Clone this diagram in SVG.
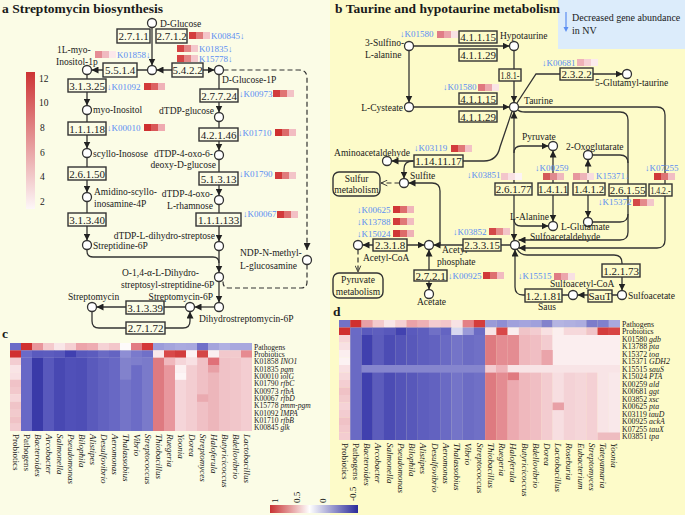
<svg xmlns="http://www.w3.org/2000/svg" width="685" height="515" viewBox="0 0 685 515">
<defs>
<style>
text{font-family:"Liberation Serif","Times New Roman",serif;fill:#1a1a1a}
.t{font-size:13.5px;font-weight:bold}
.n{font-size:9.5px}
.e{font-size:11px;text-anchor:middle}
.k{font-size:9px;fill:#5b8ef2}
.h{font-size:9px}
.rc{font-size:7.6px}
.rd{font-size:7.8px}
.i{font-style:italic}
.l{fill:none;stroke:#333;stroke-width:1.3}
.d{fill:none;stroke:#333;stroke-width:1.2;stroke-dasharray:5 3}
.c{fill:#fff;stroke:#333;stroke-width:1.3}
.ba{fill:#fbfce6;stroke:#333;stroke-width:1.4}
.bb{fill:#fdfbc9;stroke:#333;stroke-width:1.4}
.ea{marker-end:url(#ah)}
.eb{marker-start:url(#ah);marker-end:url(#ah)}
</style>
<marker id="ah" viewBox="0 0 10 10" refX="10" refY="5" markerWidth="7" markerHeight="7" markerUnits="userSpaceOnUse" orient="auto-start-reverse"><path d="M0,0 L10,5 L0,10 z" fill="#222"/></marker>
<marker id="oa" viewBox="0 0 10 10" refX="10" refY="5" markerWidth="7" markerHeight="7" markerUnits="userSpaceOnUse" orient="auto"><path d="M1,1 L10,5 L1,9" fill="none" stroke="#333" stroke-width="1.3"/></marker>
<linearGradient id="gv" x1="0" y1="0" x2="0" y2="1"><stop offset="0" stop-color="#cd3434"/><stop offset="1" stop-color="#fdf7f8"/></linearGradient>
<linearGradient id="gh" x1="0" y1="0" x2="1" y2="0"><stop offset="0" stop-color="#c83232"/><stop offset="0.45" stop-color="#ffffff"/><stop offset="1" stop-color="#2a2a9a"/></linearGradient>
</defs>

<rect x="0" y="0" width="330" height="515" fill="#fbfce6"/>
<rect x="330" y="0" width="355" height="515" fill="#fdfbc9"/>
<rect x="558" y="0" width="127" height="49" fill="#dcecfb"/>

<text class="t" x="2" y="13">a Streptomycin biosynthesis</text>
<text class="t" x="335" y="13">b Taurine and hypotaurine metabolism</text>
<text class="t" x="2" y="338">c</text>
<text class="t" x="333" y="316">d</text>

<g id="legend-nv">
<line x1="566" y1="12" x2="566" y2="28" stroke="#5b8ef2" stroke-width="1.2"/>
<path d="M563.5,27 L566,32 L568.5,27 z" fill="#5b8ef2"/>
<text x="572" y="21" style="font-size:10px">Decreased gene abundance</text>
<text x="572" y="34" style="font-size:10px">in NV</text>
</g>

<g id="scale-a">
<rect x="26" y="72" width="9" height="137" fill="url(#gv)"/>
<text class="n" x="39" y="82">12</text>
<text class="n" x="39" y="106">10</text>
<text class="n" x="40" y="131">8</text>
<text class="n" x="40" y="156">6</text>
<text class="n" x="40" y="180">4</text>
<text class="n" x="40" y="205">2</text>
</g>

<!-- connectors panel a -->
<g id="connectors-a">
<line class="l ea" x1="152" y1="27.5" x2="152" y2="65.5"/>
<line class="l eb" x1="156.5" y1="70" x2="214.5" y2="70"/>
<line class="l ea" x1="147.5" y1="70" x2="91.5" y2="70"/>
<line class="l ea" x1="87" y1="74.5" x2="87" y2="105.5"/>
<line class="l ea" x1="87" y1="114.5" x2="87" y2="148.5"/>
<line class="l ea" x1="87" y1="157.5" x2="87" y2="192.5"/>
<line class="l ea" x1="87" y1="201.5" x2="87" y2="240.5"/>
<path class="l" d="M87,249.5 V251 Q87,257 93,257 H213 Q219,257 219,263"/>
<line class="l ea" x1="219" y1="74.5" x2="219" y2="112.5"/>
<line class="l ea" x1="219" y1="121.5" x2="219" y2="150.5"/>
<line class="l ea" x1="219" y1="159.5" x2="219" y2="195.5"/>
<line class="l ea" x1="219" y1="204.5" x2="219" y2="241.5"/>
<line class="l ea" x1="219" y1="250.5" x2="219" y2="272.5"/>
<line class="l ea" x1="219" y1="281.5" x2="219" y2="302.5"/>
<line class="l ea" x1="214.5" y1="307" x2="194.5" y2="307"/>
<line class="l ea" x1="185.5" y1="307" x2="96.5" y2="307"/>
<path class="l ea" d="M92,311.5 V321 Q92,328 99,328 H183 Q190,328 190,321 V311.5"/>
<path class="d" d="M223.5,70 H299 Q307,70 307,78 V250" marker-end="url(#ah)"/>
<path class="d" d="M307,264.5 V282 Q307,288 301,288 H229 Q223,288 223,282 V280"/>
</g>

<!-- nodes panel a -->
<g id="n-dglucose"><circle class="c" cx="152" cy="23" r="4.5"/><text class="n" x="160" y="27">D-Glucose</text></g>
<g id="n-g6p"><circle class="c" cx="152" cy="70" r="4.5"/></g>
<g id="n-mi1p"><circle class="c" cx="87" cy="70" r="4.5"/><text class="n" x="57" y="53">1L-myo-</text><text class="n" x="56" y="65">Inositol-1p</text></g>
<g id="n-g1p"><circle class="c" cx="219" cy="70" r="4.5"/><text class="n" x="222" y="83">D-Glucose-1P</text></g>
<g id="n-myo"><circle class="c" cx="87" cy="110" r="4.5"/><text class="n" x="93" y="113">myo-Inositol</text></g>
<g id="n-scyllo"><circle class="c" cx="87" cy="153" r="4.5"/><text class="n" x="93" y="157">scyllo-Inosose</text></g>
<g id="n-amidino"><circle class="c" cx="87" cy="197" r="4.5"/><text class="n" x="94" y="195">Amidino-scyllo-</text><text class="n" x="94" y="207">inosamine-4P</text></g>
<g id="n-streptidine"><circle class="c" cx="87" cy="245" r="4.5"/><text class="n" x="93" y="249">Streptidine-6P</text></g>
<g id="n-dtdpglc"><circle class="c" cx="219" cy="117" r="4.5"/><text class="n" x="214" y="114" text-anchor="end">dTDP-glucose</text></g>
<g id="n-dtdp46"><circle class="c" cx="219" cy="155" r="4.5"/><text class="n" x="213" y="157" text-anchor="end">dTDP-4-oxo-6-</text><text class="n" x="216" y="168" text-anchor="end">deoxy-D-glucose</text></g>
<g id="n-dtdprha"><circle class="c" cx="219" cy="200" r="4.5"/><text class="n" x="213" y="197" text-anchor="end">dTDP-4-oxo-</text><text class="n" x="213" y="209" text-anchor="end">L-rhamnose</text></g>
<g id="n-dtdpstr"><circle class="c" cx="219" cy="246" r="4.5"/><text class="n" x="215" y="239" text-anchor="end">dTDP-L-dihydro-streptose</text></g>
<g id="n-o14"><circle class="c" cx="219" cy="277" r="4.5"/><text class="n" x="122" y="276">O-1,4-α-L-Dihydro-</text><text class="n" x="121" y="288">streptosyl-streptidine-6P</text></g>
<g id="n-dhsm6p"><circle class="c" cx="219" cy="307" r="4.5"/><text class="n" x="199" y="322">Dihydrostreptomycin-6P</text></g>
<g id="n-sm6p"><circle class="c" cx="190" cy="307" r="4.5"/><text class="n" x="213" y="300" text-anchor="end">Streptomycin-6P</text></g>
<g id="n-sm"><circle class="c" cx="92" cy="307" r="4.5"/><text class="n" x="68" y="300">Streptomycin</text></g>
<g id="n-ndp"><circle class="c" cx="307" cy="260" r="4.5"/><text class="n" x="240" y="256">NDP-N-methyl-</text><text class="n" x="240" y="269">L-glucosamine</text></g>

<g id="e-2711"><rect class="ba" x="117" y="29" width="33" height="14"/><text class="e" x="133.5" y="40">2.7.1.1</text></g>
<g id="e-2712"><rect class="ba" x="156" y="29" width="31" height="14"/><text class="e" x="171.5" y="40">2.7.1.2</text></g>
<g id="e-5422"><rect class="ba" x="172" y="63" width="31" height="14"/><text class="e" x="187.5" y="74">5.4.2.2</text></g>
<g id="e-5514"><rect class="ba" x="103" y="63" width="34" height="14"/><text class="e" x="120" y="74">5.5.1.4</text></g>
<g id="e-31325"><rect class="ba" x="68" y="79" width="38" height="13"/><text class="e" x="87" y="89.5">3.1.3.25</text></g>
<g id="e-11118"><rect class="ba" x="68" y="122" width="38" height="13"/><text class="e" x="87" y="132.5">1.1.1.18</text></g>
<g id="e-26150"><rect class="ba" x="68" y="167" width="38" height="13"/><text class="e" x="87" y="177.5">2.6.1.50</text></g>
<g id="e-31340"><rect class="ba" x="68" y="213" width="38" height="13"/><text class="e" x="87" y="223.5">3.1.3.40</text></g>
<g id="e-27724"><rect class="ba" x="200" y="89" width="38" height="13"/><text class="e" x="219" y="99.5">2.7.7.24</text></g>
<g id="e-42146"><rect class="ba" x="199" y="128" width="39" height="13"/><text class="e" x="218.5" y="138.5">4.2.1.46</text></g>
<g id="e-51313"><rect class="ba" x="199" y="172" width="39" height="13"/><text class="e" x="218.5" y="182.5">5.1.3.13</text></g>
<g id="e-111133"><rect class="ba" x="196" y="213" width="45" height="13"/><text class="e" x="218.5" y="223.5">1.1.1.133</text></g>
<g id="e-31339"><rect class="ba" x="126" y="301" width="38" height="13"/><text class="e" x="145" y="311.5">3.1.3.39</text></g>
<g id="e-27172"><rect class="ba" x="126" y="322" width="39" height="12"/><text class="e" x="145.5" y="332">2.7.1.72</text></g>

<g id="ko-a">
<text class="k" x="211" y="39">K00845↓</text>
<rect x="189" y="32" width="7" height="7" fill="#d43c3c"/><rect x="196" y="32" width="7" height="7" fill="#e07a7a"/><rect x="203" y="32" width="7" height="7" fill="#f4c4c8"/>
<text class="k" x="199" y="52">K01835↓</text>
<rect x="177" y="45" width="7" height="7" fill="#d64444"/><rect x="184" y="45" width="7" height="7" fill="#e38686"/><rect x="191" y="45" width="7" height="7" fill="#f4c8cc"/>
<text class="k" x="199" y="62">K15778↓</text>
<rect x="177" y="55" width="7" height="7" fill="#d64444"/><rect x="184" y="55" width="7" height="7" fill="#e38686"/><rect x="191" y="55" width="7" height="7" fill="#f4c8cc"/>
<text class="k" x="117" y="58">K01858↓</text>
<rect x="95" y="51" width="7" height="7" fill="#e58c94"/><rect x="102" y="51" width="7" height="7" fill="#f0bac0"/><rect x="109" y="51" width="7" height="7" fill="#fbe8ea"/>
<text class="k" x="107" y="90">↓K01092</text>
<rect x="144" y="83" width="7" height="7" fill="#d23a3a"/><rect x="151" y="83" width="7" height="7" fill="#dc6262"/><rect x="158" y="83" width="7" height="7" fill="#f0b2b8"/>
<text class="k" x="107" y="131">↓K00010</text>
<rect x="144" y="124" width="7" height="7" fill="#ce3030"/><rect x="151" y="124" width="7" height="7" fill="#d95858"/><rect x="158" y="124" width="7" height="7" fill="#efaab0"/>
<text class="k" x="239" y="97">↓K00973</text>
<rect x="273" y="90" width="7" height="7" fill="#d23c3c"/><rect x="280" y="90" width="7" height="7" fill="#e07474"/><rect x="287" y="90" width="7" height="7" fill="#f3c2c6"/>
<text class="k" x="238" y="136">↓K01710</text>
<rect x="275" y="129" width="7" height="7" fill="#ce3030"/><rect x="282" y="129" width="7" height="7" fill="#dc6a6a"/><rect x="289" y="129" width="7" height="7" fill="#f2bcc2"/>
<text class="k" x="239" y="177">↓K01790</text>
<rect x="275" y="172" width="7" height="7" fill="#d23a3a"/><rect x="282" y="172" width="7" height="7" fill="#e07c7c"/><rect x="289" y="172" width="7" height="7" fill="#f3c4c8"/>
<text class="k" x="243" y="217">↓K00067</text>
<rect x="277" y="211" width="7" height="7" fill="#d23a3a"/><rect x="284" y="211" width="7" height="7" fill="#de7070"/><rect x="291" y="211" width="7" height="7" fill="#f3c0c5"/>
</g>

<!-- connectors panel b -->
<g id="connectors-b">
<line class="l ea" x1="413.5" y1="46" x2="509.5" y2="46"/>
<line class="l ea" x1="409" y1="50.5" x2="409" y2="102.5"/>
<line class="l ea" x1="413.5" y1="107" x2="509.5" y2="107"/>
<line class="l ea" x1="514" y1="50.5" x2="514" y2="102.5"/>
<path class="l ea" d="M517,103 L536,74 H622.5"/>
<path class="l ea" d="M512,111.5 L500,147 Q497,161 484,161 H391.5"/>
<path class="l ea" d="M413,161 Q404,161 404,169 V178.5"/>
<line class="d" x1="399.5" y1="183" x2="381" y2="183" marker-end="url(#oa)"/>
<line class="l eb" x1="514" y1="111.5" x2="514" y2="240.5"/>
<path class="l ea" d="M514,153 Q514,146 521,146 H548.5"/>
<path class="l ea" d="M514,219 Q514,226 521,226 H548.5"/>
<line class="l eb" x1="553" y1="150.5" x2="553" y2="221.5"/>
<line class="l eb" x1="588" y1="159.5" x2="588" y2="217.5"/>
<path class="l ea" d="M518,110 Q520,112 525,112 H620 Q628,112 628,120 V232 Q628,240 620,240 H518.5"/>
<path class="l ea" d="M518.5,107 H657 Q665,107 665,115 V240 Q665,248 657,248 H518.5"/>
<path class="l" d="M592.5,155 H620 Q628,155 628,163"/>
<path class="l" d="M592.5,222 H620 Q628,222 628,214"/>
<line class="l ea" x1="510.5" y1="245" x2="433.5" y2="245"/>
<line class="l eb" x1="424.5" y1="245" x2="362.5" y2="245"/>
<line class="l eb" x1="429" y1="249.5" x2="429" y2="289.5"/>
<path class="l ea" d="M440,245 V191 Q440,183 432,183 H408.5"/>
<line class="d" x1="358" y1="249.5" x2="358" y2="272" marker-end="url(#oa)"/>
<path class="l ea" d="M517,249 Q520,255 527,255 H614 Q622,255 622,263 V290.5"/>
<line class="l ea" x1="617.5" y1="295" x2="577.5" y2="295"/>
<path class="l ea" d="M568.5,295 H523 Q515,295 515,287 V249.5"/>
</g>

<!-- nodes panel b -->
<g id="n-sulfinoala"><circle class="c" cx="409" cy="46" r="4.5"/><text class="n" x="365" y="46">3-Sulfino-</text><text class="n" x="365" y="58">L-alanine</text></g>
<g id="n-hypotaurine"><circle class="c" cx="514" cy="46" r="4.5"/><text class="n" x="500" y="39">Hypotaurine</text></g>
<g id="n-cysteate"><circle class="c" cx="409" cy="107" r="4.5"/><text class="n" x="403" y="111" text-anchor="end">L-Cysteate</text></g>
<g id="n-taurine"><circle class="c" cx="514" cy="107" r="4.5"/><text class="n" x="524" y="104">Taurine</text></g>
<g id="n-glutaurine"><circle class="c" cx="627" cy="74" r="4.5"/><text class="n" x="595" y="86">5-Glutamyl-taurine</text></g>
<g id="n-aminoacet"><circle class="c" cx="387" cy="161" r="4.5"/><text class="n" x="410" y="156" text-anchor="end">Aminoacetaldehyde</text></g>
<g id="n-sulfite"><circle class="c" cx="404" cy="183" r="4.5"/><text class="n" x="410" y="179">Sulfite</text></g>
<g id="n-sulfurmet"><rect class="bb" x="333" y="172" width="47" height="24" rx="6"/><text class="n" x="356.5" y="182" text-anchor="middle">Sulfur</text><text class="n" x="356.5" y="193" text-anchor="middle">metabolism</text></g>
<g id="n-pyruvate"><circle class="c" cx="553" cy="146" r="4.5"/><text class="n" x="522" y="140">Pyruvate</text></g>
<g id="n-oxoglut"><circle class="c" cx="588" cy="155" r="4.5"/><text class="n" x="566" y="150">2-Oxoglutarate</text></g>
<g id="n-alanine"><circle class="c" cx="553" cy="226" r="4.5"/><text class="n" x="510" y="220">L-Alanine</text></g>
<g id="n-glutamate"><circle class="c" cx="588" cy="222" r="4.5"/><text class="n" x="561" y="230">L-Glutamate</text></g>
<g id="n-sulfoacetald"><circle class="c" cx="515" cy="245" r="4.5"/><text class="n" x="530" y="239.5">Sulfoacetaldehyde</text></g>
<g id="n-acetylp"><circle class="c" cx="429" cy="245" r="4.5"/><text class="n" x="442" y="253">Acetyl</text><text class="n" x="437" y="265">phosphate</text></g>
<g id="n-acetylcoa"><circle class="c" cx="358" cy="245" r="4.5"/><text class="n" x="363" y="261">Acetyl-CoA</text></g>
<g id="n-pyrmet"><rect class="bb" x="333" y="273" width="50" height="25" rx="6"/><text class="n" x="358" y="283" text-anchor="middle">Pyruvate</text><text class="n" x="358" y="295" text-anchor="middle">metabolism</text></g>
<g id="n-acetate"><circle class="c" cx="429" cy="294" r="4.5"/><text class="n" x="417" y="305">Acetate</text></g>
<g id="n-sulfoacetylcoa"><circle class="c" cx="573" cy="295" r="4.5"/><text class="n" x="550" y="287">Sulfoacetyl-CoA</text></g>
<g id="n-sulfoacetate"><circle class="c" cx="622" cy="295" r="4.5"/><text class="n" x="628" y="299">Sulfoacetate</text></g>

<g id="e-41115a"><rect class="bb" x="459" y="31" width="38" height="12"/><text class="e" x="478" y="41">4.1.1.15</text></g>
<g id="e-41129a"><rect class="bb" x="459" y="49" width="38" height="12"/><text class="e" x="478" y="59">4.1.1.29</text></g>
<g id="e-41115b"><rect class="bb" x="459" y="93" width="38" height="11"/><text class="e" x="478" y="102.5">4.1.1.15</text></g>
<g id="e-41129b"><rect class="bb" x="459" y="111" width="38" height="11"/><text class="e" x="478" y="120.5">4.1.1.29</text></g>
<g id="e-181"><rect class="bb" x="499" y="69" width="22" height="12"/><text class="e" x="510" y="79" textLength="19" lengthAdjust="spacingAndGlyphs">1.8.1-</text></g>
<g id="e-2322"><rect class="bb" x="560" y="68" width="33" height="12"/><text class="e" x="576.5" y="78">2.3.2.2</text></g>
<g id="e-1141117"><rect class="bb" x="414" y="155" width="49" height="12"/><text class="e" x="438.5" y="165">1.14.11.17</text></g>
<g id="e-26177"><rect class="bb" x="495" y="183" width="37" height="12"/><text class="e" x="513.5" y="193">2.6.1.77</text></g>
<g id="e-1411"><rect class="bb" x="538" y="183" width="30" height="12"/><text class="e" x="553" y="193">1.4.1.1</text></g>
<g id="e-1412"><rect class="bb" x="573" y="183" width="32" height="12"/><text class="e" x="589" y="193">1.4.1.2</text></g>
<g id="e-26155"><rect class="bb" x="609" y="184" width="37" height="12"/><text class="e" x="627.5" y="194">2.6.1.55</text></g>
<g id="e-142"><rect class="bb" x="649" y="184" width="23" height="12"/><text class="e" x="660.5" y="194" textLength="20" lengthAdjust="spacingAndGlyphs">1.4.2.-</text></g>
<g id="e-23315"><rect class="bb" x="463" y="239" width="38" height="12"/><text class="e" x="482" y="249">2.3.3.15</text></g>
<g id="e-2318"><rect class="bb" x="373" y="239" width="34" height="12"/><text class="e" x="390" y="249">2.3.1.8</text></g>
<g id="e-2721"><rect class="bb" x="414" y="270" width="33" height="11"/><text class="e" x="430.5" y="279.5">2.7.2.1</text></g>
<g id="e-12173"><rect class="bb" x="602" y="264" width="38" height="13"/><text class="e" x="621" y="274.5">1.2.1.73</text></g>
<g id="e-saut"><rect class="bb" x="588" y="290" width="24" height="12"/><text class="e" x="600" y="300">SauT</text></g>
<g id="e-12181"><rect class="bb" x="525" y="289" width="37" height="13"/><text class="e" x="543.5" y="299.5">1.2.1.81</text><text class="n" x="538" y="310">Saus</text></g>

<g id="ko-b">
<text class="k" x="400" y="37">↓K01580</text>
<rect x="437" y="31" width="7" height="7" fill="#e07e86"/><rect x="444" y="31" width="7" height="7" fill="#eaa4aa"/><rect x="451" y="31" width="7" height="7" fill="#f8e2e4"/>
<text class="k" x="443" y="90">↓K01580</text>
<rect x="478" y="84" width="7" height="7" fill="#e0787f"/><rect x="485" y="84" width="7" height="7" fill="#eca8ae"/><rect x="492" y="84" width="7" height="7" fill="#f9e4e6"/>
<text class="k" x="542" y="66">↓K00681</text>
<rect x="577" y="59" width="7" height="7" fill="#efb2b8"/><rect x="584" y="59" width="7" height="7" fill="#f6d2d6"/><rect x="591" y="59" width="7" height="7" fill="#fcecee"/>
<text class="k" x="414" y="151">↓K03119</text>
<rect x="451" y="145" width="7" height="7" fill="#d23c3c"/><rect x="458" y="145" width="7" height="7" fill="#e07878"/><rect x="465" y="145" width="7" height="7" fill="#f3c2c6"/>
<text class="k" x="467" y="178">↓K03851</text>
<rect x="501" y="173" width="7" height="7" fill="#f3c6cb"/><rect x="508" y="173" width="7" height="7" fill="#f8e0e3"/><rect x="515" y="173" width="7" height="7" fill="#fdf4f5"/>
<text class="k" x="357" y="213">↓K00625</text>
<rect x="393" y="206" width="7" height="7" fill="#d03636"/><rect x="400" y="206" width="7" height="7" fill="#de6e6e"/><rect x="407" y="206" width="7" height="7" fill="#f0b4ba"/>
<text class="k" x="357" y="225">↓K13788</text>
<rect x="393" y="218" width="7" height="7" fill="#d23c3c"/><rect x="400" y="218" width="7" height="7" fill="#e07878"/><rect x="407" y="218" width="7" height="7" fill="#f2bcc1"/>
<text class="k" x="357" y="237">↓K15024</text>
<rect x="393" y="230" width="7" height="7" fill="#d03636"/><rect x="400" y="230" width="7" height="7" fill="#dd6a6a"/><rect x="407" y="230" width="7" height="7" fill="#efb0b6"/>
<text class="k" x="453" y="235">↓K03852</text>
<rect x="489" y="228" width="7" height="7" fill="#d44848"/><rect x="496" y="228" width="7" height="7" fill="#e48a8a"/><rect x="503" y="228" width="7" height="7" fill="#f3c4c8"/>
<text class="k" x="448" y="279">↓K00925</text>
<rect x="483" y="272" width="7" height="7" fill="#d23a3a"/><rect x="490" y="272" width="7" height="7" fill="#de7070"/><rect x="497" y="272" width="7" height="7" fill="#f2bac0"/>
<text class="k" x="535" y="171">↓K00259</text>
<rect x="543" y="173" width="7" height="7" fill="#d45858"/><rect x="550" y="173" width="7" height="7" fill="#e08a8e"/><rect x="557" y="173" width="7" height="7" fill="#f0b8bd"/>
<text class="k" x="596" y="179">K15371↓</text>
<rect x="573" y="173" width="7" height="7" fill="#e7979e"/><rect x="580" y="173" width="7" height="7" fill="#eeb4b9"/><rect x="587" y="173" width="7" height="7" fill="#f8dcdf"/>
<text class="k" x="645" y="171">↓K07255</text>
<rect x="654" y="173" width="7" height="7" fill="#d03838"/><rect x="661" y="173" width="7" height="7" fill="#de7474"/><rect x="668" y="173" width="7" height="7" fill="#f2bec3"/>
<text class="k" x="598" y="205">↓K15372</text>
<rect x="633" y="199" width="7" height="7" fill="#d44848"/><rect x="640" y="199" width="7" height="7" fill="#e48a8c"/><rect x="647" y="199" width="7" height="7" fill="#f3c6ca"/>
<text class="k" x="518" y="279">↓K15515</text>
<rect x="554" y="273" width="7" height="7" fill="#e07c84"/><rect x="561" y="273" width="7" height="7" fill="#eca6ac"/><rect x="568" y="273" width="7" height="7" fill="#f8e0e3"/>
</g>

<!-- heatmap c -->
<g id="heatmap-c">
<rect x="10" y="343" width="11.2" height="7.5" fill="#6c6cc8"/><rect x="21" y="343" width="11.2" height="7.5" fill="#d03030"/><rect x="32" y="343" width="11.2" height="7.5" fill="#e8969c"/><rect x="43" y="343" width="11.2" height="7.5" fill="#f4cacd"/><rect x="54" y="343" width="11.2" height="7.5" fill="#f9e6e8"/><rect x="65" y="343" width="11.2" height="7.5" fill="#f5d0d3"/><rect x="76" y="343" width="11.2" height="7.5" fill="#eca4aa"/><rect x="87" y="343" width="11.2" height="7.5" fill="#eeacb2"/><rect x="98" y="343" width="11.2" height="7.5" fill="#f5d2d5"/><rect x="109" y="343" width="11.2" height="7.5" fill="#f3c6ca"/><rect x="120" y="343" width="11.2" height="7.5" fill="#fdfafa"/><rect x="131" y="343" width="11.2" height="7.5" fill="#e27c82"/><rect x="142" y="343" width="11.2" height="7.5" fill="#d43838"/><rect x="153" y="343" width="11.2" height="7.5" fill="#9c9cda"/><rect x="164" y="343" width="11.2" height="7.5" fill="#a4a4dc"/><rect x="175" y="343" width="11.2" height="7.5" fill="#aaaadf"/><rect x="186" y="343" width="11.2" height="7.5" fill="#a8a8de"/><rect x="197" y="343" width="11.2" height="7.5" fill="#7070c8"/><rect x="208" y="343" width="11.2" height="7.5" fill="#a4a4dc"/><rect x="219" y="343" width="11.2" height="7.5" fill="#b0b0e2"/><rect x="230" y="343" width="11.2" height="7.5" fill="#a8a8de"/><rect x="241" y="343" width="11" height="7.5" fill="#a8a8de"/>
<rect x="10" y="350.33" width="11.2" height="7.5" fill="#d03030"/><rect x="21" y="350.33" width="11.2" height="7.5" fill="#6a6ac8"/><rect x="32" y="350.33" width="11.2" height="7.5" fill="#5a5abe"/><rect x="43" y="350.33" width="11.2" height="7.5" fill="#5c5cbe"/><rect x="54" y="350.33" width="11.2" height="7.5" fill="#5858bc"/><rect x="65" y="350.33" width="11.2" height="7.5" fill="#4040b0"/><rect x="76" y="350.33" width="11.2" height="7.5" fill="#5858bc"/><rect x="87" y="350.33" width="11.2" height="7.5" fill="#5c5cbe"/><rect x="98" y="350.33" width="11.2" height="7.5" fill="#6a6ac4"/><rect x="109" y="350.33" width="11.2" height="7.5" fill="#6464c2"/><rect x="120" y="350.33" width="11.2" height="7.5" fill="#8e8ed4"/><rect x="131" y="350.33" width="11.2" height="7.5" fill="#7a7acc"/><rect x="142" y="350.33" width="11.2" height="7.5" fill="#7070c8"/><rect x="153" y="350.33" width="11.2" height="7.5" fill="#f9e8ea"/><rect x="164" y="350.33" width="11.2" height="7.5" fill="#d84848"/><rect x="175" y="350.33" width="11.2" height="7.5" fill="#d23c3c"/><rect x="186" y="350.33" width="11.2" height="7.5" fill="#fcf2f3"/><rect x="197" y="350.33" width="11.2" height="7.5" fill="#d44646"/><rect x="208" y="350.33" width="11.2" height="7.5" fill="#fbf0f1"/><rect x="219" y="350.33" width="11.2" height="7.5" fill="#f2c8cc"/><rect x="230" y="350.33" width="11.2" height="7.5" fill="#f2cacd"/><rect x="241" y="350.33" width="11" height="7.5" fill="#e68a90"/>
<rect x="10" y="357.67" width="11.2" height="7.5" fill="#f3cdd1"/><rect x="10" y="365" width="11.2" height="7.5" fill="#f9e4e6"/><rect x="10" y="372.33" width="11.2" height="7.5" fill="#f8e0e3"/><rect x="10" y="379.67" width="11.2" height="7.5" fill="#f0c2c7"/><rect x="10" y="387" width="11.2" height="7.5" fill="#f2c8cc"/><rect x="10" y="394.33" width="11.2" height="7.5" fill="#f6d6d9"/><rect x="10" y="401.67" width="11.2" height="7.5" fill="#f0c4c8"/><rect x="10" y="409" width="11.2" height="7.5" fill="#f2cacd"/><rect x="10" y="416.33" width="11.2" height="7.5" fill="#f0c2c6"/><rect x="10" y="423.67" width="11.2" height="7.33" fill="#f3ccd0"/>
<rect x="21" y="357.67" width="11.2" height="73.33" fill="#6868c6"/><rect x="32" y="357.67" width="11.2" height="73.33" fill="#3a3aa8"/><rect x="43" y="357.67" width="11.2" height="73.33" fill="#5858bc"/><rect x="54" y="357.67" width="11.2" height="73.33" fill="#4848b2"/><rect x="65" y="357.67" width="11.2" height="73.33" fill="#5050b8"/><rect x="76" y="357.67" width="11.2" height="73.33" fill="#4e4eb6"/><rect x="87" y="357.67" width="11.2" height="73.33" fill="#5a5abc"/><rect x="98" y="357.67" width="11.2" height="73.33" fill="#6262c0"/><rect x="109" y="357.67" width="11.2" height="73.33" fill="#6868c4"/><rect x="120" y="357.67" width="11.2" height="73.33" fill="#7474c8"/><rect x="131" y="357.67" width="11.2" height="73.33" fill="#6c6cc6"/><rect x="142" y="357.67" width="11.2" height="73.33" fill="#7a7aca"/><rect x="153" y="357.67" width="11.2" height="73.33" fill="#de7a80"/><rect x="164" y="357.67" width="11.2" height="73.33" fill="#e8979d"/><rect x="175" y="357.67" width="11.2" height="73.33" fill="#f5d5d9"/><rect x="186" y="357.67" width="11.2" height="73.33" fill="#f3cdd1"/><rect x="197" y="357.67" width="11.2" height="73.33" fill="#f0c0c5"/><rect x="208" y="357.67" width="11.2" height="73.33" fill="#edb6bb"/><rect x="219" y="357.67" width="11.2" height="73.33" fill="#f0c2c7"/><rect x="230" y="357.67" width="11.2" height="73.33" fill="#f1c6ca"/><rect x="241" y="357.67" width="11" height="73.33" fill="#f3cdd1"/>
<rect x="208" y="357.67" width="11.2" height="7.5" fill="#e07078"/><rect x="175" y="365" width="11.2" height="7.5" fill="#fcf0f1"/><rect x="175" y="372.33" width="11.2" height="7.5" fill="#fdf5f6"/><rect x="186" y="357.67" width="11.2" height="7.5" fill="#f8e0e3"/><rect x="120" y="357.67" width="11.2" height="22" fill="#8282cc"/><rect x="131" y="357.67" width="11.2" height="7.5" fill="#7e7ecc"/><rect x="197" y="394.33" width="11.2" height="7.5" fill="#eaaab0"/><rect x="164" y="357.67" width="11.2" height="7.5" fill="#f0b8bd"/><rect x="208" y="365" width="11.2" height="7.5" fill="#e8a0a6"/>
</g>
<g id="labels-c">
<text class="rc" x="254" y="349.5">Pathogens</text>
<text class="rc" x="254" y="356.8">Probiotics</text>
<text class="rc" x="254" y="364.2">K01858 <tspan class="i">INO1</tspan></text>
<text class="rc" x="254" y="371.5">K01835 <tspan class="i">pgm</tspan></text>
<text class="rc" x="254" y="378.8">K00010 <tspan class="i">iolG</tspan></text>
<text class="rc" x="254" y="386.2">K01790 <tspan class="i">rfbC</tspan></text>
<text class="rc" x="254" y="393.5">K00973 <tspan class="i">rfbA</tspan></text>
<text class="rc" x="254" y="400.8">K00067 <tspan class="i">rfbD</tspan></text>
<text class="rc" x="254" y="408.2">K15778 <tspan class="i">pmm-pgm</tspan></text>
<text class="rc" x="254" y="415.5">K01092 <tspan class="i">IMPA</tspan></text>
<text class="rc" x="254" y="422.8">K01710 <tspan class="i">rfbB</tspan></text>
<text class="rc" x="254" y="430.2">K00845 <tspan class="i">glk</tspan></text>
<text class="h" transform="translate(12.5,434) rotate(90)">Probiotics</text>
<text class="h" transform="translate(23.5,434) rotate(90)">Pathogens</text>
<text class="h i" transform="translate(34.5,434) rotate(90)">Bacteroides</text>
<text class="h i" transform="translate(45.5,434) rotate(90)">Arcobacter</text>
<text class="h i" transform="translate(56.5,434) rotate(90)">Salmonella</text>
<text class="h i" transform="translate(67.5,434) rotate(90)">Pseudomonas</text>
<text class="h i" transform="translate(78.5,434) rotate(90)">Bilophila</text>
<text class="h i" transform="translate(89.5,434) rotate(90)">Alistipes</text>
<text class="h i" transform="translate(100.5,434) rotate(90)">Desulfovibrio</text>
<text class="h i" transform="translate(111.5,434) rotate(90)">Aeromonas</text>
<text class="h i" transform="translate(122.5,434) rotate(90)">Thalassobius</text>
<text class="h i" transform="translate(133.5,434) rotate(90)">Vibrio</text>
<text class="h i" transform="translate(144.5,434) rotate(90)">Streptococcus</text>
<text class="h i" transform="translate(155.5,434) rotate(90)">Thiobacillus</text>
<text class="h i" transform="translate(166.5,434) rotate(90)">Ruegeria</text>
<text class="h i" transform="translate(177.5,434) rotate(90)">Yoonia</text>
<text class="h i" transform="translate(188.5,434) rotate(90)">Dorea</text>
<text class="h i" transform="translate(199.5,434) rotate(90)">Streptomyces</text>
<text class="h i" transform="translate(210.5,434) rotate(90)">Haloferula</text>
<text class="h i" transform="translate(221.5,434) rotate(90)">Butyricicoccus</text>
<text class="h i" transform="translate(232.5,434) rotate(90)">Bdellovibrio</text>
<text class="h i" transform="translate(243.5,434) rotate(90)">Lactobacillus</text>
</g>

<g id="colorbar-cd">
<rect x="270" y="505" width="88" height="8" fill="url(#gh)"/>
<text class="h" transform="translate(278,503) rotate(-90)">1</text>
<text class="h" transform="translate(300,503) rotate(-90)">0.5</text>
<text class="h" transform="translate(326,503) rotate(-90)">0</text>
<text class="h" transform="translate(356,501) rotate(-90)">-0.5</text>
</g>

<!-- heatmap d -->
<g id="heatmap-d">
<rect x="339" y="320" width="11.4" height="7.6" fill="#7272c8"/><rect x="350.24" y="320" width="11.4" height="7.6" fill="#d03030"/><rect x="361.48" y="320" width="11.4" height="7.6" fill="#e9a0a6"/><rect x="372.72" y="320" width="11.4" height="7.6" fill="#f4cacd"/><rect x="383.96" y="320" width="11.4" height="7.6" fill="#f9e6e8"/><rect x="395.2" y="320" width="11.4" height="7.6" fill="#f5d0d3"/><rect x="406.44" y="320" width="11.4" height="7.6" fill="#eba2a8"/><rect x="417.68" y="320" width="11.4" height="7.6" fill="#eeb0b5"/><rect x="428.92" y="320" width="11.4" height="7.6" fill="#f4ccd0"/><rect x="440.16" y="320" width="11.4" height="7.6" fill="#f3c6ca"/><rect x="451.4" y="320" width="11.4" height="7.6" fill="#f8e2e4"/><rect x="462.64" y="320" width="11.4" height="7.6" fill="#e48086"/><rect x="473.88" y="320" width="11.4" height="7.6" fill="#d43c3c"/><rect x="485.12" y="320" width="11.4" height="7.6" fill="#9a9ad8"/><rect x="496.36" y="320" width="11.4" height="7.6" fill="#8e8ed4"/><rect x="507.6" y="320" width="11.4" height="7.6" fill="#a0a0dc"/><rect x="518.84" y="320" width="11.4" height="7.6" fill="#a4a4de"/><rect x="530.08" y="320" width="11.4" height="7.6" fill="#a0a0dc"/><rect x="541.32" y="320" width="11.4" height="7.6" fill="#8282cc"/><rect x="552.56" y="320" width="11.4" height="7.6" fill="#b4b4e2"/><rect x="563.8" y="320" width="11.4" height="7.6" fill="#b0b0e0"/><rect x="575.04" y="320" width="11.4" height="7.6" fill="#acacdf"/><rect x="586.28" y="320" width="11.4" height="7.6" fill="#7c7cca"/><rect x="597.52" y="320" width="11.4" height="7.6" fill="#8080cc"/><rect x="608.76" y="320" width="11.24" height="7.6" fill="#a8a8de"/>
<rect x="339" y="327.5" width="11.4" height="7.6" fill="#d03030"/><rect x="350.24" y="327.5" width="11.4" height="7.6" fill="#6a6ac6"/><rect x="361.48" y="327.5" width="11.4" height="7.6" fill="#5a5abd"/><rect x="372.72" y="327.5" width="11.4" height="7.6" fill="#5e5ebe"/><rect x="383.96" y="327.5" width="11.4" height="7.6" fill="#5858bb"/><rect x="395.2" y="327.5" width="11.4" height="7.6" fill="#4242b0"/><rect x="406.44" y="327.5" width="11.4" height="7.6" fill="#5a5abd"/><rect x="417.68" y="327.5" width="11.4" height="7.6" fill="#5e5ebe"/><rect x="428.92" y="327.5" width="11.4" height="7.6" fill="#7070c6"/><rect x="440.16" y="327.5" width="11.4" height="7.6" fill="#6464c2"/><rect x="451.4" y="327.5" width="11.4" height="7.6" fill="#d8d8f0"/><rect x="462.64" y="327.5" width="11.4" height="7.6" fill="#9a9ad8"/><rect x="473.88" y="327.5" width="11.4" height="7.6" fill="#6c6cc4"/><rect x="485.12" y="327.5" width="11.4" height="7.6" fill="#f8e4e6"/><rect x="496.36" y="327.5" width="11.4" height="7.6" fill="#d84848"/><rect x="507.6" y="327.5" width="11.4" height="7.6" fill="#faeeef"/><rect x="518.84" y="327.5" width="11.4" height="7.6" fill="#f0c4c8"/><rect x="530.08" y="327.5" width="11.4" height="7.6" fill="#f3ccd0"/><rect x="541.32" y="327.5" width="11.4" height="7.6" fill="#f8e0e2"/><rect x="552.56" y="327.5" width="11.4" height="7.6" fill="#fbeeee"/><rect x="563.8" y="327.5" width="11.4" height="7.6" fill="#f6d8db"/><rect x="575.04" y="327.5" width="11.4" height="7.6" fill="#f6d8db"/><rect x="586.28" y="327.5" width="11.4" height="7.6" fill="#f0c4c8"/><rect x="597.52" y="327.5" width="11.4" height="7.6" fill="#d43c3c"/><rect x="608.76" y="327.5" width="11.24" height="7.6" fill="#d84444"/>
<rect x="339" y="335" width="11.4" height="7.6" fill="#f6d6d9"/><rect x="339" y="342.5" width="11.4" height="7.6" fill="#f8e0e3"/><rect x="339" y="350" width="11.4" height="7.6" fill="#fbeeef"/><rect x="339" y="357.5" width="11.4" height="7.6" fill="#fcf2f3"/><rect x="339" y="365" width="11.4" height="7.6" fill="#f8e0e3"/><rect x="339" y="372.5" width="11.4" height="7.6" fill="#f6d8db"/><rect x="339" y="380" width="11.4" height="7.6" fill="#f4ced2"/><rect x="339" y="387.5" width="11.4" height="7.6" fill="#f0c2c6"/><rect x="339" y="395" width="11.4" height="7.6" fill="#f2cacd"/><rect x="339" y="402.5" width="11.4" height="7.6" fill="#f5d2d6"/><rect x="339" y="410" width="11.4" height="7.6" fill="#f3ccd0"/><rect x="339" y="417.5" width="11.4" height="7.6" fill="#f0c2c6"/><rect x="339" y="425" width="11.4" height="7.6" fill="#f2c8cc"/><rect x="339" y="432.5" width="11.4" height="7.5" fill="#f3ccd0"/>
<rect x="350.24" y="335" width="11.4" height="105" fill="#6a6ac4"/><rect x="361.48" y="335" width="11.4" height="105" fill="#4040ae"/><rect x="372.72" y="335" width="11.4" height="105" fill="#5c5cbc"/><rect x="383.96" y="335" width="11.4" height="105" fill="#4c4cb4"/><rect x="395.2" y="335" width="11.4" height="105" fill="#5454b8"/><rect x="406.44" y="335" width="11.4" height="105" fill="#5858ba"/><rect x="417.68" y="335" width="11.4" height="105" fill="#5e5ebe"/><rect x="428.92" y="335" width="11.4" height="105" fill="#6262c0"/><rect x="440.16" y="335" width="11.4" height="105" fill="#6a6ac4"/><rect x="451.4" y="335" width="11.4" height="105" fill="#7474c8"/><rect x="462.64" y="335" width="11.4" height="105" fill="#6c6cc4"/><rect x="473.88" y="335" width="11.4" height="105" fill="#7070c6"/><rect x="485.12" y="335" width="11.4" height="105" fill="#de7a80"/><rect x="496.36" y="335" width="11.4" height="105" fill="#e48c92"/><rect x="507.6" y="335" width="11.4" height="105" fill="#ecaab0"/><rect x="518.84" y="335" width="11.4" height="105" fill="#efb8bd"/><rect x="530.08" y="335" width="11.4" height="105" fill="#f0bec3"/><rect x="541.32" y="335" width="11.4" height="105" fill="#f3ccd0"/><rect x="552.56" y="335" width="11.4" height="105" fill="#f7dee1"/><rect x="563.8" y="335" width="11.4" height="105" fill="#f4d2d6"/><rect x="575.04" y="335" width="11.4" height="105" fill="#f5d6d9"/><rect x="586.28" y="335" width="11.4" height="105" fill="#f4d0d4"/><rect x="597.52" y="335" width="11.4" height="105" fill="#f8e4e6"/><rect x="608.76" y="335" width="11.24" height="105" fill="#f9e8ea"/>
<rect x="361.48" y="365" width="123.64" height="7.6" fill="#8686ce"/><rect x="485.12" y="365" width="11.4" height="7.6" fill="#f3ccd0"/><rect x="496.36" y="365" width="11.4" height="7.6" fill="#eeb2b8"/><rect x="507.6" y="365" width="112.4" height="7.6" fill="#f8e4e6"/>
<rect x="507.6" y="335" width="11.4" height="30" fill="#e48c92"/><rect x="507.6" y="372.5" width="11.4" height="7.6" fill="#e07a80"/><rect x="552.56" y="335" width="67.44" height="30" fill="#fbeeef"/><rect x="552.56" y="402.5" width="11.4" height="7.6" fill="#e8a0a6"/><rect x="597.52" y="432.5" width="22.48" height="7.5" fill="#eebcc0"/><rect x="541.32" y="350" width="11.4" height="15" fill="#eaa4aa"/>
</g>
<g id="labels-d">
<text class="rd" x="622" y="326.6">Pathogens</text>
<text class="rd" x="622" y="334.1">Probiotics</text>
<text class="rd" x="622" y="341.6">K01580 <tspan class="i">gdb</tspan></text>
<text class="rd" x="622" y="349.1">K13788 <tspan class="i">pta</tspan></text>
<text class="rd" x="622" y="356.6">K15372 <tspan class="i">toa</tspan></text>
<text class="rd" x="622" y="364.1">K15371 <tspan class="i">GDH2</tspan></text>
<text class="rd" x="622" y="371.6">K15515 <tspan class="i">sauS</tspan></text>
<text class="rd" x="622" y="379.1">K15024 <tspan class="i">PTA</tspan></text>
<text class="rd" x="622" y="386.6">K00259 <tspan class="i">ald</tspan></text>
<text class="rd" x="622" y="394.1">K00681 <tspan class="i">ggt</tspan></text>
<text class="rd" x="622" y="401.6">K03852 <tspan class="i">xsc</tspan></text>
<text class="rd" x="622" y="409.1">K00625 <tspan class="i">pta</tspan></text>
<text class="rd" x="622" y="416.6">K03119 <tspan class="i">tauD</tspan></text>
<text class="rd" x="622" y="424.1">K00925 <tspan class="i">ackA</tspan></text>
<text class="rd" x="622" y="431.6">K07255 <tspan class="i">tauX</tspan></text>
<text class="rd" x="622" y="439.1">K03851 <tspan class="i">tpa</tspan></text>
<text class="h" transform="translate(341.6,443) rotate(90)">Probiotics</text>
<text class="h" transform="translate(352.9,443) rotate(90)">Pathogens</text>
<text class="h i" transform="translate(364.1,443) rotate(90)">Bacteroides</text>
<text class="h i" transform="translate(375.3,443) rotate(90)">Arcobacter</text>
<text class="h i" transform="translate(386.6,443) rotate(90)">Salmonella</text>
<text class="h i" transform="translate(397.8,443) rotate(90)">Pseudomonas</text>
<text class="h i" transform="translate(409.1,443) rotate(90)">Bilophila</text>
<text class="h i" transform="translate(420.3,443) rotate(90)">Alistipes</text>
<text class="h i" transform="translate(431.5,443) rotate(90)">Desulfovibrio</text>
<text class="h i" transform="translate(442.8,443) rotate(90)">Aeromonas</text>
<text class="h i" transform="translate(454,443) rotate(90)">Thalassobius</text>
<text class="h i" transform="translate(465.3,443) rotate(90)">Vibrio</text>
<text class="h i" transform="translate(476.5,443) rotate(90)">Streptococcus</text>
<text class="h i" transform="translate(487.7,443) rotate(90)">Thiobacillus</text>
<text class="h i" transform="translate(499,443) rotate(90)">Ruegeria</text>
<text class="h i" transform="translate(510.2,443) rotate(90)">Haloferula</text>
<text class="h i" transform="translate(521.5,443) rotate(90)">Butyricicoccus</text>
<text class="h i" transform="translate(532.7,443) rotate(90)">Bdellovibrio</text>
<text class="h i" transform="translate(543.9,443) rotate(90)">Dorea</text>
<text class="h i" transform="translate(555.2,443) rotate(90)">Lactobacillus</text>
<text class="h i" transform="translate(566.4,443) rotate(90)">Roseburia</text>
<text class="h i" transform="translate(577.7,443) rotate(90)">Eubacterium</text>
<text class="h i" transform="translate(588.9,443) rotate(90)">Streptomyces</text>
<text class="h i" transform="translate(600.1,443) rotate(90)">Tateyamaria</text>
<text class="h i" transform="translate(611.4,443) rotate(90)">Yoonia</text>
</g>
</svg>
